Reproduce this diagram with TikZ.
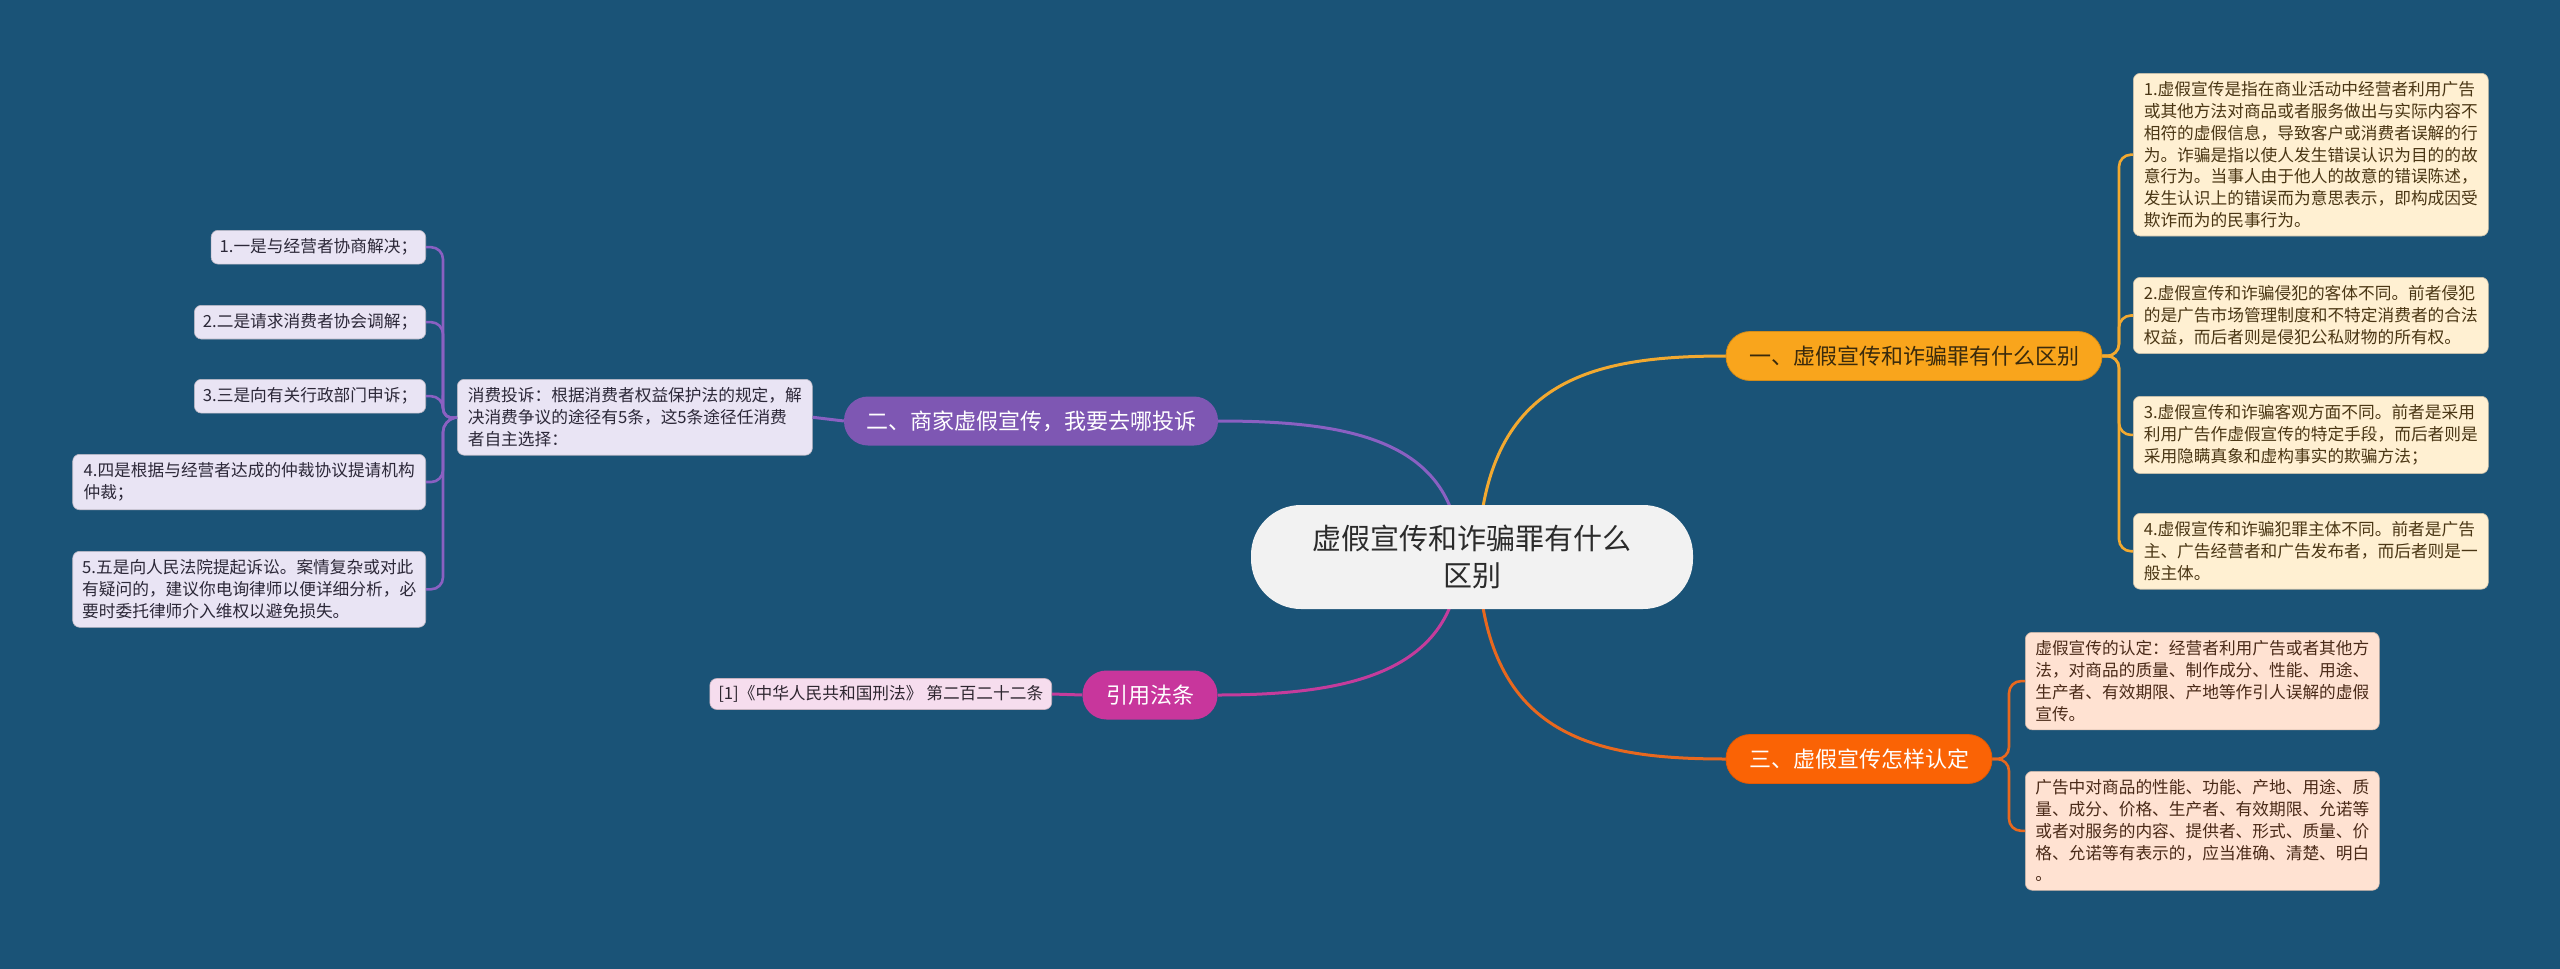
\documentclass[tikz,border=0pt]{standalone}
\usepackage{fontspec}
\setmainfont{Noto Sans CJK SC}
\definecolor{bg}{HTML}{1A5377}
\definecolor{cfill}{HTML}{F2F2F2}
\definecolor{ctext}{HTML}{2B2B2B}
\definecolor{oA}{HTML}{F9A51C}
\definecolor{oAline}{HTML}{F2A930}
\definecolor{oAtext}{HTML}{3A2A0C}
\definecolor{oAleaf}{HTML}{FFF0D2}
\definecolor{oAleaftext}{HTML}{4A3614}
\definecolor{oB}{HTML}{FA6305}
\definecolor{oBline}{HTML}{E8681E}
\definecolor{oBleaf}{HTML}{FFE2D2}
\definecolor{oBleaftext}{HTML}{4A2A18}
\definecolor{pu}{HTML}{7E57B3}
\definecolor{puline}{HTML}{8A60C2}
\definecolor{puleaf}{HTML}{E9E4F4}
\definecolor{puleaftext}{HTML}{2C2838}
\definecolor{mg}{HTML}{C8369C}
\definecolor{mgline}{HTML}{C43C9C}
\definecolor{mgleaf}{HTML}{F6DDEE}
\definecolor{mgleaftext}{HTML}{2E2630}
\tikzset{
  central/.style={fill=cfill, text=ctext, rounded corners=50, minimum width=442, minimum height=104, align=center, font=\fontsize{29}{37}\selectfont, inner sep=0},
  branch/.style={rounded corners=24, minimum height=49, inner sep=0, font=\fontsize{22}{26}\selectfont},
  leaf/.style={rounded corners=7, align=left, inner xsep=8.5, inner ysep=8.5, font=\fontsize{16.7}{21.7}\selectfont},
  mainline/.style={line width=3},
  subline/.style={line width=2.6, rounded corners=12},
}
\begin{document}
\begin{tikzpicture}[x=1pt,y=-1pt]
\useasboundingbox (0,0) rectangle (2560,969);
\fill[bg] (0,0) rectangle (2560,969);

% connectors from center (drawn first, behind nodes)
\coordinate (cA) at (1478,557);
\coordinate (cB) at (1460,557);
\draw[mainline, oAline] (cA) .. controls (1484,380) and (1590,356) .. (1726,356);
\draw[mainline, oBline] (cA) .. controls (1484,735) and (1590,759) .. (1726,759);
\draw[mainline, puline] (cB) .. controls (1456,440) and (1350,421) .. (1218,421);
\draw[mainline, mgline] (cB) .. controls (1456,672) and (1350,695) .. (1218,695);

% central
\node[central] (c) at (1472,557) {虚假宣传和诈骗罪有什么\\区别};

% branches
\node[branch, fill=oA, draw=oA!85!black, line width=0.8, text=oAtext, minimum width=376] (b1) at (1914,356) {一、虚假宣传和诈骗罪有什么区别};
\node[branch, fill=oB, draw=oB!90!black, line width=0.8, text=white, minimum width=266] (b3) at (1859,759) {三、虚假宣传怎样认定};
\node[branch, fill=pu, text=white, minimum width=374] (b2) at (1031,421) {二、商家虚假宣传，我要去哪投诉};
\node[branch, fill=mg, text=white, minimum width=135] (b4) at (1150,695) {引用法条};

% right leaves (branch 1)
\begin{scope}[every node/.append style={leaf, fill=oAleaf, draw=oAleaf!80!black, line width=0.6, text=oAleaftext, minimum width=355, anchor=north west}]
\node (r1) at (2133,73) {1.虚假宣传是指在商业活动中经营者利用广告\\或其他方法对商品或者服务做出与实际内容不\\相符的虚假信息，导致客户或消费者误解的行\\为。诈骗是指以使人发生错误认识为目的的故\\意行为。当事人由于他人的故意的错误陈述，\\发生认识上的错误而为意思表示，即构成因受\\欺诈而为的民事行为。};
\node (r2) at (2133,277) {2.虚假宣传和诈骗侵犯的客体不同。前者侵犯\\的是广告市场管理制度和不特定消费者的合法\\权益，而后者则是侵犯公私财物的所有权。};
\node (r3) at (2133,396) {3.虚假宣传和诈骗客观方面不同。前者是采用\\利用广告作虚假宣传的特定手段，而后者则是\\采用隐瞒真象和虚构事实的欺骗方法；};
\node (r4) at (2133,513) {4.虚假宣传和诈骗犯罪主体不同。前者是广告\\主、广告经营者和广告发布者，而后者则是一\\般主体。};
\end{scope}

% branch 3 leaves
\begin{scope}[every node/.append style={leaf, fill=oBleaf, draw=oBleaf!80!black, line width=0.6, text=oBleaftext, minimum width=354, anchor=north west}]
\node (s1) at (2025,632) {虚假宣传的认定：经营者利用广告或者其他方\\法，对商品的质量、制作成分、性能、用途、\\生产者、有效期限、产地等作引人误解的虚假\\宣传。};
\node (s2) at (2025,771) {广告中对商品的性能、功能、产地、用途、质\\量、成分、价格、生产者、有效期限、允诺等\\或者对服务的内容、提供者、形式、质量、价\\格、允诺等有表示的，应当准确、清楚、明白\\。};
\end{scope}

% purple branch: middle box and leaves
\node[leaf, fill=puleaf, draw=puleaf!80!black, line width=0.6, text=puleaftext, minimum width=355, anchor=north west] (m) at (457,379) {消费投诉：根据消费者权益保护法的规定，解\\决消费争议的途径有5条，这5条途径任消费\\者自主选择：};
\begin{scope}[every node/.append style={leaf, fill=puleaf, draw=puleaf!80!black, line width=0.6, text=puleaftext, anchor=north east}]
\node (l1) at (426,230) {1.一是与经营者协商解决；};
\node (l2) at (426,305) {2.二是请求消费者协会调解；};
\node (l3) at (426,379) {3.三是向有关行政部门申诉；};
\node[minimum width=353] (l4) at (426,454) {4.四是根据与经营者达成的仲裁协议提请机构\\仲裁；};
\node[minimum width=353] (l5) at (426,551) {5.五是向人民法院提起诉讼。案情复杂或对此\\有疑问的，建议你电询律师以便详细分析，必\\要时委托律师介入维权以避免损失。};
\end{scope}

% cite leaf
\node[leaf, fill=mgleaf, draw=mgleaf!80!black, line width=0.6, text=mgleaftext, anchor=east, inner ysep=7] (k) at (1052,694) {[1]《中华人民共和国刑法》 第二百二十二条};

% sub connectors
\foreach \n in {r1,r2,r3,r4}{
  \draw[subline, oAline] (b1.east) -- (2119,356) |- (\n.west);
}
\foreach \n in {s1,s2}{
  \draw[subline, oBline] (b3.east) -- (2009,759) |- (s1.west |- \n.west);
}
\foreach \n in {l1,l2,l3,l4,l5}{
  \draw[subline, puline] (m.west) -- (443,420) |- (\n.east);
}
\draw[mainline, puline] (b2.west) -- (m.east);
\draw[mainline, mgline] (b4.west) -- (k.east);
\end{tikzpicture}
\end{document}
